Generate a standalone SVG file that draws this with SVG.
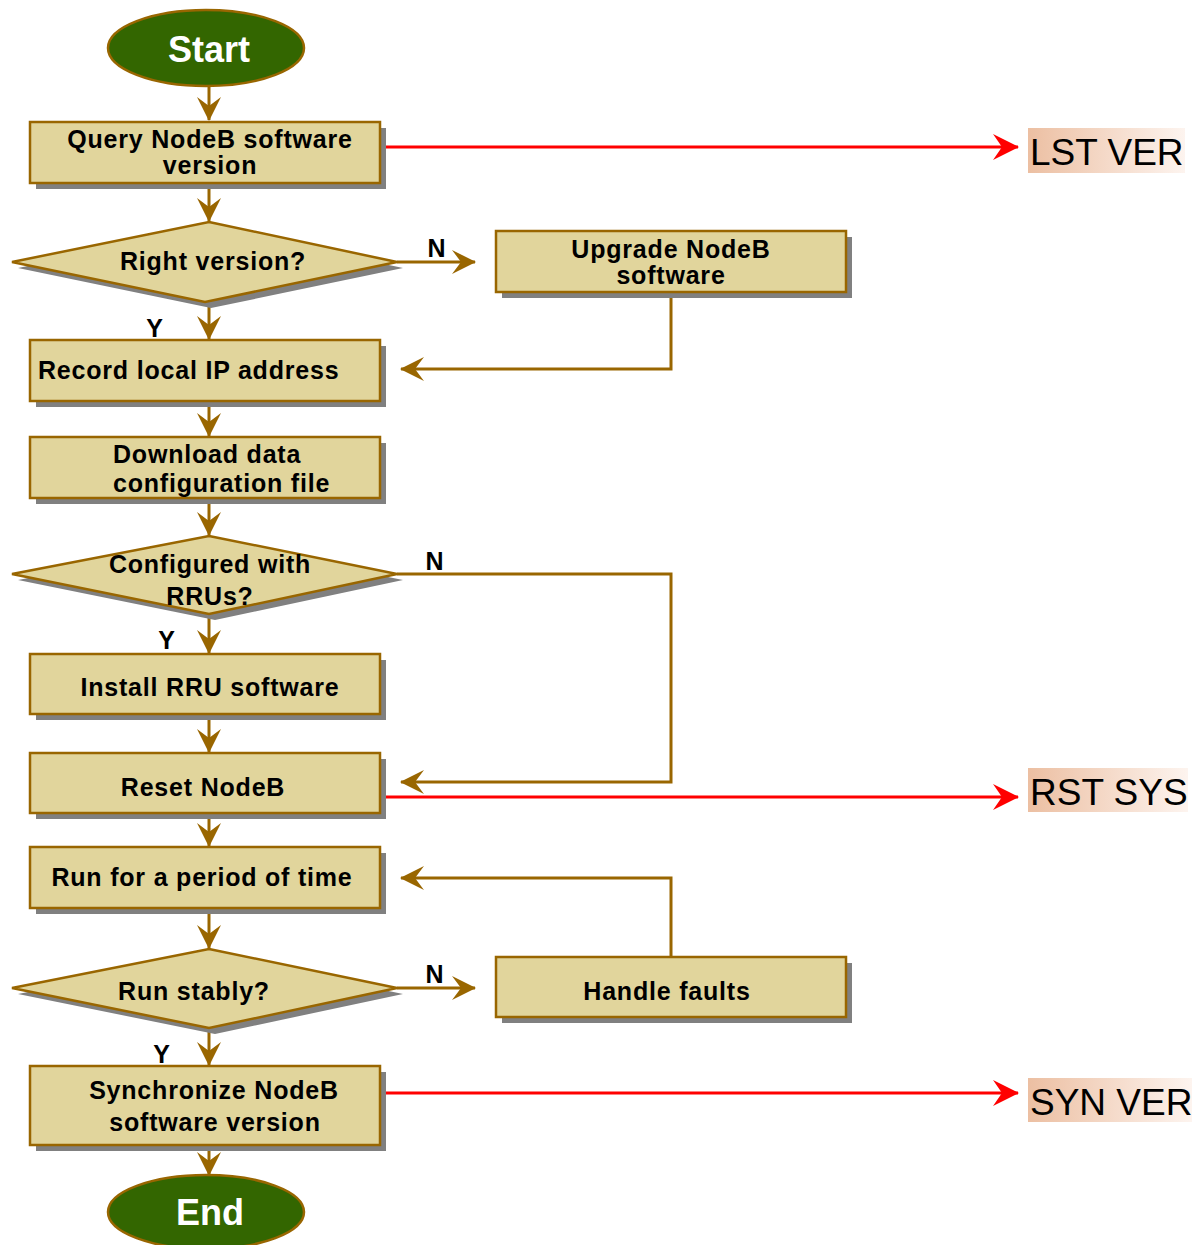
<svg xmlns="http://www.w3.org/2000/svg" width="1195" height="1245" viewBox="0 0 1195 1245">
<style>
.box{fill:#E1D59C;stroke:#996600;stroke-width:2.5}
.shadow{fill:#808080}
.term{fill:#336600;stroke:#996600;stroke-width:2.5}
.t{font-family:"Liberation Sans",Arial,sans-serif;font-weight:bold;font-size:25px;letter-spacing:0.8px;fill:#000}
.tt{font-family:"Liberation Sans",Arial,sans-serif;font-weight:bold;font-size:36px;fill:#fff}
.cmd{font-family:"Liberation Sans",Arial,sans-serif;font-size:37px;fill:#000}
.flow{fill:none;stroke:#996600;stroke-width:3}
.red{fill:none;stroke:#FF0000;stroke-width:3}
</style>
<defs>
<marker id="ab" viewBox="0 0 24 24" markerWidth="24" markerHeight="24" markerUnits="userSpaceOnUse" refX="23" refY="12" orient="auto">
<path d="M0,0 L24,12 L0,24 L9,12 Z" fill="#996600"/>
</marker>
<marker id="ar" viewBox="0 0 26 26" markerWidth="26" markerHeight="26" markerUnits="userSpaceOnUse" refX="25" refY="13" orient="auto">
<path d="M0,0 L26,13 L0,26 L9,13 Z" fill="#FF0000"/>
</marker>
<linearGradient id="cg" x1="0" y1="0" x2="1" y2="0">
<stop offset="0" stop-color="#ECBFA2"/>
<stop offset="1" stop-color="#FDF4EF"/>
</linearGradient>
</defs>

<g id="connectors">
<path class="flow" d="M209,87 V120" marker-end="url(#ab)"/>
<path class="flow" d="M209,184 V221" marker-end="url(#ab)"/>
<path class="flow" d="M209,302 V339" marker-end="url(#ab)"/>
<path class="flow" d="M397,262 H475" marker-end="url(#ab)"/>
<path class="flow" d="M671,293 V369 H401" marker-end="url(#ab)"/>
<path class="flow" d="M209,402 V436" marker-end="url(#ab)"/>
<path class="flow" d="M209,499 V535" marker-end="url(#ab)"/>
<path class="flow" d="M209,614 V653" marker-end="url(#ab)"/>
<path class="flow" d="M397,574 H671 V782 H401" marker-end="url(#ab)"/>
<path class="flow" d="M209,715 V752" marker-end="url(#ab)"/>
<path class="flow" d="M209,814 V846" marker-end="url(#ab)"/>
<path class="flow" d="M209,909 V948" marker-end="url(#ab)"/>
<path class="flow" d="M397,988 H475" marker-end="url(#ab)"/>
<path class="flow" d="M671,957 V878 H401" marker-end="url(#ab)"/>
<path class="flow" d="M209,1028 V1065" marker-end="url(#ab)"/>
<path class="flow" d="M209,1146 V1175" marker-end="url(#ab)"/>
<path class="red" d="M386,147 H1018" marker-end="url(#ar)"/>
<path class="red" d="M386,797 H1018" marker-end="url(#ar)"/>
<path class="red" d="M386,1093 H1018" marker-end="url(#ar)"/>
<text class="t" x="437" y="257" text-anchor="middle">N</text>
<text class="t" x="155" y="337" text-anchor="middle">Y</text>
<text class="t" x="435" y="570" text-anchor="middle">N</text>
<text class="t" x="167" y="649" text-anchor="middle">Y</text>
<text class="t" x="435" y="983" text-anchor="middle">N</text>
<text class="t" x="162" y="1063" text-anchor="middle">Y</text>
</g>

<g id="start">
<ellipse class="term" cx="206" cy="48" rx="98" ry="38"/>
<text class="tt" x="209" y="62" text-anchor="middle">Start</text>
</g>

<g id="query">
<rect class="shadow" x="36" y="128" width="350" height="61"/>
<rect class="box" x="30" y="122" width="350" height="61"/>
<text class="t" x="210" y="148" text-anchor="middle">Query NodeB software</text>
<text class="t" x="210" y="174" text-anchor="middle">version</text>
</g>

<g id="right-version">
<polygon class="shadow" points="215,228 403,268 211,308 18,268"/>
<polygon class="box" points="209,222 397,262 205,302 12,262"/>
<text class="t" x="213" y="270" text-anchor="middle">Right version?</text>
</g>

<g id="upgrade">
<rect class="shadow" x="502" y="237" width="350" height="61"/>
<rect class="box" x="496" y="231" width="350" height="61"/>
<text class="t" x="671" y="258" text-anchor="middle">Upgrade NodeB</text>
<text class="t" x="671" y="284" text-anchor="middle">software</text>
</g>

<g id="record">
<rect class="shadow" x="36" y="346" width="350" height="61"/>
<rect class="box" x="30" y="340" width="350" height="61"/>
<text class="t" x="38" y="379">Record local IP address</text>
</g>

<g id="download">
<rect class="shadow" x="36" y="443" width="350" height="61"/>
<rect class="box" x="30" y="437" width="350" height="61"/>
<text class="t" x="113" y="463">Download data</text>
<text class="t" x="113" y="492">configuration file</text>
</g>

<g id="configured">
<polygon class="shadow" points="215,542 403,580 215,620 18,580"/>
<polygon class="box" points="209,536 397,574 209,614 12,574"/>
<text class="t" x="210" y="573" text-anchor="middle">Configured with</text>
<text class="t" x="210" y="605" text-anchor="middle">RRUs?</text>
</g>

<g id="install">
<rect class="shadow" x="36" y="660" width="350" height="60"/>
<rect class="box" x="30" y="654" width="350" height="60"/>
<text class="t" x="210" y="696" text-anchor="middle">Install RRU software</text>
</g>

<g id="reset">
<rect class="shadow" x="36" y="759" width="350" height="60"/>
<rect class="box" x="30" y="753" width="350" height="60"/>
<text class="t" x="203" y="796" text-anchor="middle">Reset NodeB</text>
</g>

<g id="run-period">
<rect class="shadow" x="36" y="853" width="350" height="61"/>
<rect class="box" x="30" y="847" width="350" height="61"/>
<text class="t" x="202" y="886" text-anchor="middle">Run for a period of time</text>
</g>

<g id="run-stably">
<polygon class="shadow" points="215,955 403,994 215,1034 18,994"/>
<polygon class="box" points="209,949 397,988 209,1028 12,988"/>
<text class="t" x="194" y="1000" text-anchor="middle">Run stably?</text>
</g>

<g id="handle">
<rect class="shadow" x="502" y="963" width="350" height="60"/>
<rect class="box" x="496" y="957" width="350" height="60"/>
<text class="t" x="667" y="1000" text-anchor="middle">Handle faults</text>
</g>

<g id="sync">
<rect class="shadow" x="36" y="1072" width="350" height="79"/>
<rect class="box" x="30" y="1066" width="350" height="79"/>
<text class="t" x="214" y="1099" text-anchor="middle">Synchronize NodeB</text>
<text class="t" x="215" y="1131" text-anchor="middle">software version</text>
</g>

<g id="end">
<ellipse class="term" cx="206" cy="1212" rx="98" ry="37"/>
<text class="tt" x="210" y="1225" text-anchor="middle">End</text>
</g>

<g id="lst-ver">
<rect x="1028" y="128" width="157" height="45" fill="url(#cg)"/>
<text class="cmd" x="1030" y="165">LST VER</text>
</g>

<g id="rst-sys">
<rect x="1028" y="768" width="160" height="44" fill="url(#cg)"/>
<text class="cmd" x="1030" y="805">RST SYS</text>
</g>

<g id="syn-ver">
<rect x="1028" y="1078" width="164" height="44" fill="url(#cg)"/>
<text class="cmd" x="1030" y="1115">SYN VER</text>
</g>
</svg>
